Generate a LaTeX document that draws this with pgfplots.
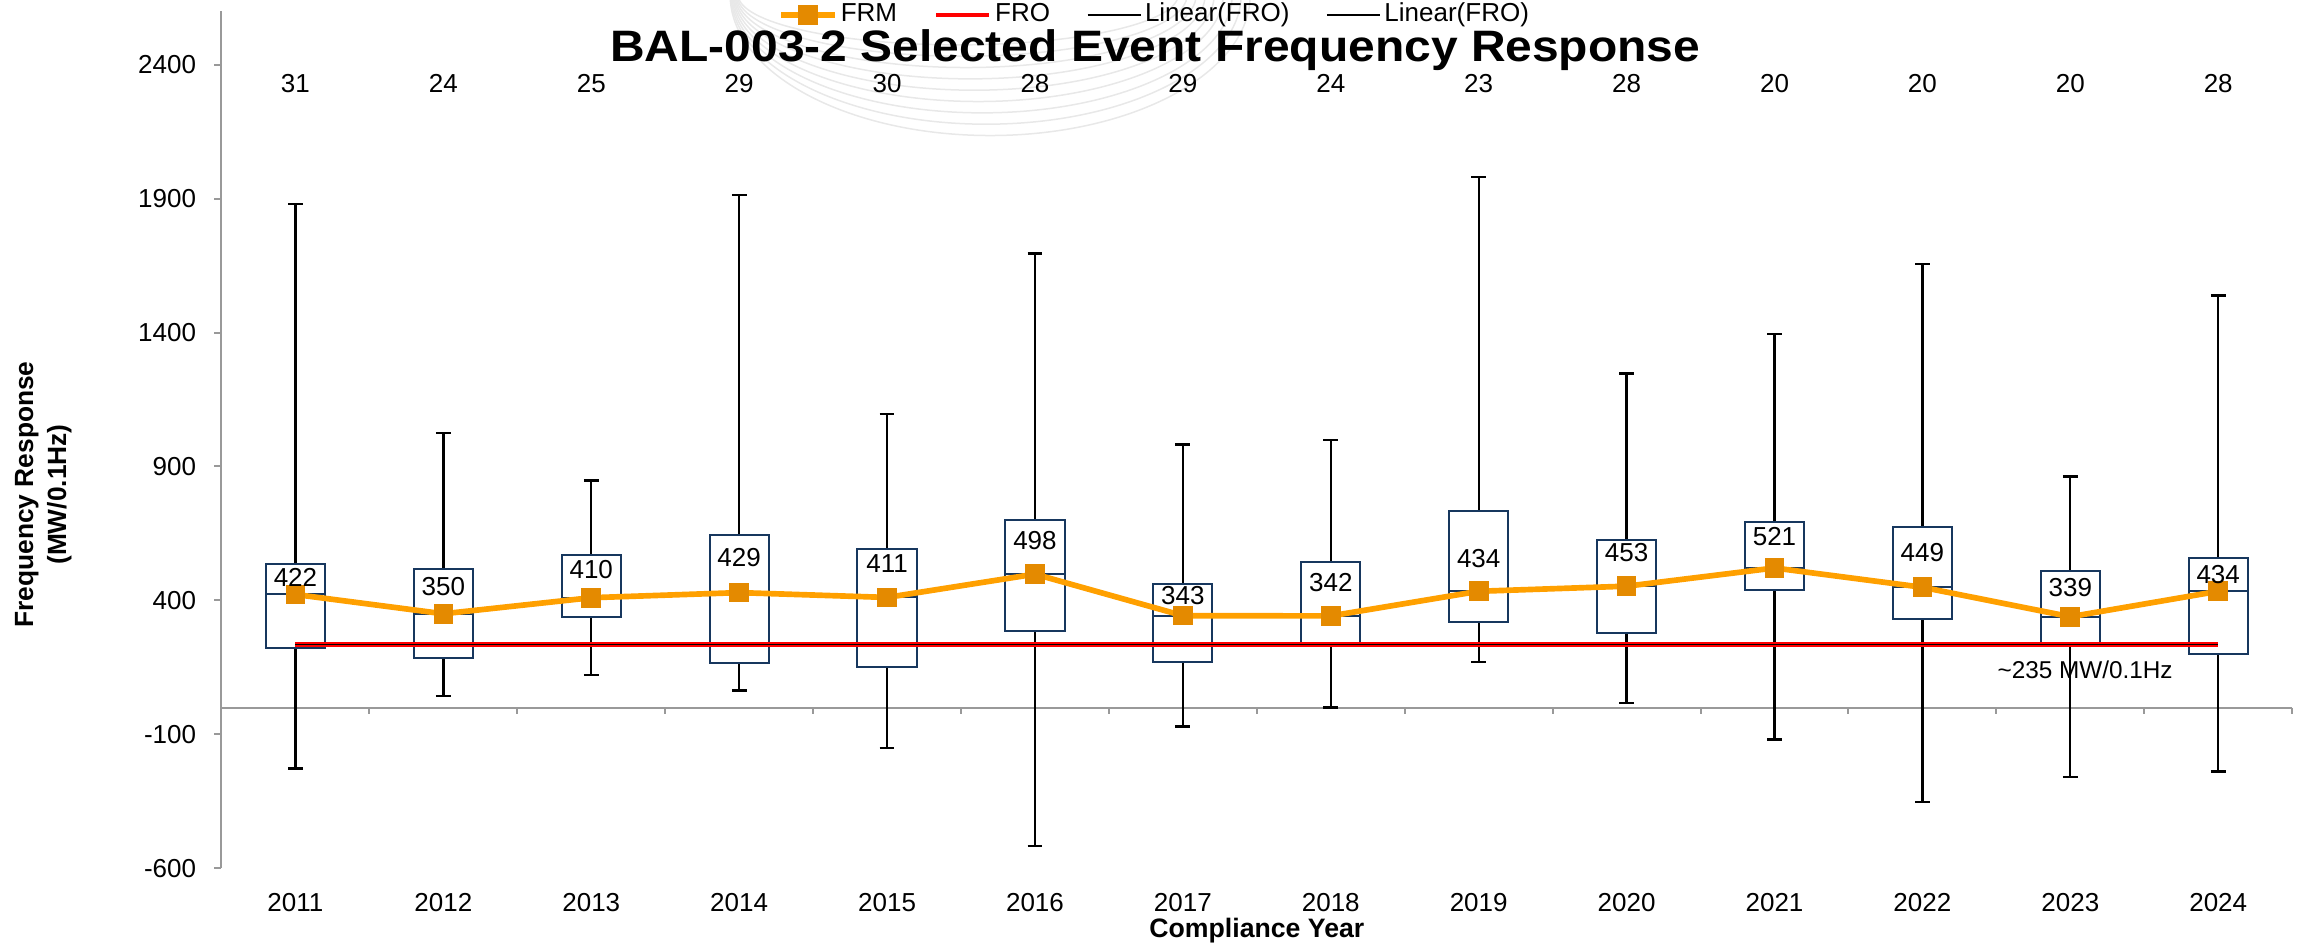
\documentclass[border=0pt]{standalone}
\usepackage{fontspec}
\setmainfont{Liberation Sans}
\usepackage{graphicx}
\usepackage{pgfplots}
\usepackage{pgfplotstable}
\pgfplotsset{compat=1.18}
\usepgfplotslibrary{statistics}

\definecolor{boxblue}{RGB}{23,55,94}
\definecolor{frmline}{RGB}{255,160,0}
\definecolor{frmmark}{RGB}{228,138,0}
\definecolor{axisgray}{RGB}{153,153,153}
\definecolor{wmgray}{RGB}{232,232,232}

\pgfplotstableread{
i frm laby n
0 422 486 31
1 350 453 24
2 410 517 25
3 429 561 29
4 411 538 30
5 498 625 28
6 343 418 29
7 342 465 24
8 434 557 23
9 453 577 28
10 521 639 20
11 449 578 20
12 339 448 20
13 434 498 28
}\frmdata

\newcommand{\lbl}{\fontsize{7.8}{9}\selectfont}

\begin{document}
\begin{tikzpicture}
% faint watermark arcs
\foreach \k in {0,...,8}{
  \pgfmathsetmacro{\rx}{66+1.5*\k}
  \pgfmathsetmacro{\ry}{15+3.4*\k}
  \pgfmathsetmacro{\cx}{221+1.2*\k}
  \draw[wmgray, line width=0.45pt] (\cx pt-\rx pt, 262pt) arc[start angle=180, end angle=360, x radius=\rx pt, y radius=\ry pt];
}
\begin{axis}[
  at={(0,0)}, anchor=south west,
  scale only axis, width=621.2pt, height=257.1pt,
  xmin=-0.5, xmax=13.5, ymin=-600, ymax=2600,
  axis y line*=left, axis x line*=bottom,
  x axis line style={draw=none},
  y axis line style={draw=axisgray, line width=0.6pt},
  ytick={-600,-100,400,900,1400,1900,2400},
  yticklabels={-600,-100,400,900,1400,1900,2400},
  xtick={0,...,13},
  xticklabels={2011,2012,2013,2014,2015,2016,2017,2018,2019,2020,2021,2022,2023,2024},
  tick align=outside,
  major tick length=2.1pt,
  major y tick style={draw=axisgray, line width=0.6pt},
  major x tick style={draw=none},
  tick label style={font=\lbl},
  xticklabel style={anchor=center, yshift=-8.3pt},
  yticklabel style={anchor=east, xshift=-2pt},
  xlabel={Compliance Year},
  xlabel style={at={(axis description cs:0.5,0)}, anchor=center, yshift=-18.6pt, font=\bfseries\fontsize{8}{9.6}\selectfont},
  ylabel={Frequency Response\\(MW/0.1Hz)},
  ylabel style={at={(axis description cs:-0.0860,0.436)}, anchor=center, align=center, font=\bfseries\fontsize{7.9}{9.9}\selectfont},
  title={\scalebox{1.09}[1]{BAL-003-2 Selected Event Frequency Response}},
  every axis title/.style={at={(axis description cs:0.1874,0.9409)}, anchor=base west, inner sep=0pt, font=\bfseries\fontsize{13.2}{15}\selectfont},
  clip=false,
  legend columns=4,
  legend style={at={(axis description cs:0.451,0.9956)}, anchor=center, draw=none, fill=none, font=\lbl, inner sep=0pt,
    nodes={inner sep=1pt}, /tikz/every even column/.append style={column sep=10pt}},
  legend image code/.code={\draw[mark repeat=2,mark phase=2,#1] plot coordinates {(0pt,0pt) (8pt,0pt) (16pt,0pt)};},
  boxplot/draw direction=y,
  boxplot/every box/.style={draw=boxblue, line width=0.6pt, fill=white},
  boxplot/every whisker/.style={draw=black, line width=0.7pt},
  boxplot/every median/.style={draw=boxblue, line width=0.6pt},
]
\addlegendimage{color=frmline, line width=1.7pt, mark=square*, mark size=2.1pt, mark options={fill=frmmark, draw=frmmark}}
\addlegendentry{FRM}
\addlegendimage{color=red, line width=1.4pt}
\addlegendentry{FRO}
\addlegendimage{color=black, line width=0.5pt}
\addlegendentry{Linear(FRO)}
\addlegendimage{color=black, line width=0.5pt}
\addlegendentry{Linear(FRO)}

% zero line with category separators
\draw[axisgray, line width=0.6pt] (axis cs:-0.5,0) -- (axis cs:13.5,0);
\pgfplotsinvokeforeach{0.5,1.5,2.5,3.5,4.5,5.5,6.5,7.5,8.5,9.5,10.5,11.5,12.5,13.5}{
  \draw[axisgray, line width=0.6pt] (axis cs:#1,0) -- ([yshift=-2pt]axis cs:#1,0);
}

\addplot[forget plot, boxplot prepared={draw position=0, lower whisker=-228, lower quartile=221, median=422, upper quartile=535, upper whisker=1880, box extend=0.4, whisker extend=0.1}] coordinates {};
\addplot[forget plot, boxplot prepared={draw position=1, lower whisker=42, lower quartile=186, median=350, upper quartile=516, upper whisker=1024, box extend=0.4, whisker extend=0.1}] coordinates {};
\addplot[forget plot, boxplot prepared={draw position=2, lower whisker=122, lower quartile=338, median=410, upper quartile=570, upper whisker=848, box extend=0.4, whisker extend=0.1}] coordinates {};
\addplot[forget plot, boxplot prepared={draw position=3, lower whisker=64, lower quartile=165, median=429, upper quartile=643, upper whisker=1914, box extend=0.4, whisker extend=0.1}] coordinates {};
\addplot[forget plot, boxplot prepared={draw position=4, lower whisker=-152, lower quartile=152, median=411, upper quartile=592, upper whisker=1096, box extend=0.4, whisker extend=0.1}] coordinates {};
\addplot[forget plot, boxplot prepared={draw position=5, lower whisker=-516, lower quartile=287, median=498, upper quartile=700, upper whisker=1695, box extend=0.4, whisker extend=0.1}] coordinates {};
\addplot[forget plot, boxplot prepared={draw position=6, lower whisker=-71, lower quartile=171, median=343, upper quartile=462, upper whisker=982, box extend=0.4, whisker extend=0.1}] coordinates {};
\addplot[forget plot, boxplot prepared={draw position=7, lower whisker=0, lower quartile=242, median=342, upper quartile=545, upper whisker=998, box extend=0.4, whisker extend=0.1}] coordinates {};
\addplot[forget plot, boxplot prepared={draw position=8, lower whisker=169, lower quartile=320, median=434, upper quartile=735, upper whisker=1982, box extend=0.4, whisker extend=0.1}] coordinates {};
\addplot[forget plot, boxplot prepared={draw position=9, lower whisker=16, lower quartile=277, median=453, upper quartile=624, upper whisker=1247, box extend=0.4, whisker extend=0.1}] coordinates {};
\addplot[forget plot, boxplot prepared={draw position=10, lower whisker=-120, lower quartile=439, median=521, upper quartile=692, upper whisker=1394, box extend=0.4, whisker extend=0.1}] coordinates {};
\addplot[forget plot, boxplot prepared={draw position=11, lower whisker=-354, lower quartile=331, median=449, upper quartile=674, upper whisker=1657, box extend=0.4, whisker extend=0.1}] coordinates {};
\addplot[forget plot, boxplot prepared={draw position=12, lower whisker=-260, lower quartile=242, median=339, upper quartile=510, upper whisker=862, box extend=0.4, whisker extend=0.1}] coordinates {};
\addplot[forget plot, boxplot prepared={draw position=13, lower whisker=-239, lower quartile=200, median=434, upper quartile=559, upper whisker=1538, box extend=0.4, whisker extend=0.1}] coordinates {};

% FRO and its linear trend lines
\addplot[forget plot, color=red, line width=1.4pt] coordinates {(0,235) (13,235)};
\addplot[forget plot, color=black, line width=0.5pt] coordinates {(0,235) (13,235)};

% FRM
\addplot[forget plot, color=frmline, line width=1.7pt, mark=square*, mark size=2.1pt, mark options={fill=frmmark, draw=frmmark}] table[x=i, y=frm] {\frmdata};

% value labels
\addplot[forget plot, draw=none, mark=none, nodes near coords, point meta=explicit symbolic,
  nodes near coords style={anchor=center, font=\lbl, text=black, inner sep=0pt}] table[x=i, y=laby, meta=frm] {\frmdata};
% event counts
\addplot[forget plot, draw=none, mark=none, nodes near coords, point meta=explicit symbolic,
  nodes near coords style={anchor=center, font=\lbl, text=black, inner sep=0pt}] table[x=i, y expr=2330, meta=n] {\frmdata};

\node[font=\fontsize{7.3}{9}\selectfont, anchor=center] at (axis cs:12.1,140) {\textasciitilde 235 MW/0.1Hz};
\end{axis}
\pgfresetboundingbox
\path[use as bounding box] (-66.45pt,-23.64pt) rectangle (624.45pt,260.46pt);
\end{tikzpicture}
\end{document}
